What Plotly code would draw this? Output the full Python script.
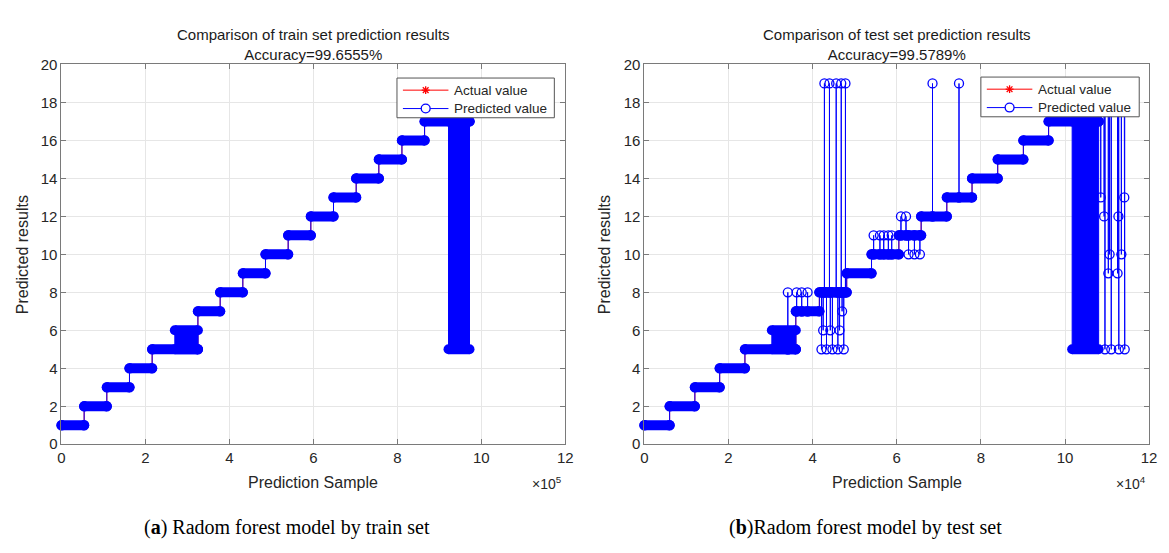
import plotly.graph_objects as go

# ---------------- data ----------------
# Train set (x in units of 1e5 samples): class boundaries and class levels
train_bounds = [0.00, 0.54, 1.08, 1.62, 2.16, 3.25, 3.78, 4.32, 4.86, 5.40,
                5.94, 6.48, 7.02, 7.56, 8.11, 8.65, 9.72]
train_levels = [1, 2, 3, 4, 5, 7, 8, 9, 10, 11, 12, 13, 14, 15, 16, 17]
# zones where predictions alternate rapidly between two classes
train_mix_x0 = [2.70, 9.22]
train_mix_x1 = [3.25, 9.72]
train_mix_lo = [5, 5]
train_mix_hi = [6, 17]
train_out_x = []
train_out_y = []

# Test set (x in units of 1e4 samples)
test_bounds = [0.00, 0.60, 1.20, 1.79, 2.39, 3.60, 4.16, 4.81, 5.40, 6.05,
               6.58, 7.19, 7.79, 8.40, 9.01, 9.61, 10.80, 11.45]
test_levels = [1, 2, 3, 4, 5, 7, 8, 9, 10, 11, 12, 13, 14, 15, 16, 17, 18]
test_mix_x0 = [3.03, 10.17]
test_mix_x1 = [3.60, 10.80]
test_mix_lo = [5, 5]
test_mix_hi = [6, 17]
# misclassified predictions (x position, predicted class)
test_out_x = [3.41, 3.62, 3.74, 3.88,
              4.21, 4.25, 4.28, 4.33, 4.40, 4.42, 4.47, 4.56, 4.60, 4.64, 4.68, 4.70, 4.74, 4.78,
              5.45, 5.60, 5.69, 5.80, 5.88,
              6.10, 6.22, 6.28, 6.42, 6.55,
              6.85, 7.48,
              10.85, 10.93, 10.95, 11.03, 11.06, 11.10, 11.25, 11.27, 11.28, 11.34, 11.41, 11.42]
test_out_y = [8, 8, 8, 8,
              5, 6, 19, 5, 19, 6, 5, 19, 5, 6, 19, 7, 5, 19,
              11, 11, 11, 11, 11,
              12, 12, 10, 10, 10,
              19, 19,
              13, 12, 5, 9, 10, 5, 9, 12, 5, 10, 13, 5]

titles = ["Comparison of train set prediction results<br>Accuracy=99.6555%",
          "Comparison of test set prediction results<br>Accuracy=99.5789%"]
captions = ["(<b>a</b>) Radom forest model by train set",
            "(<b>b</b>)Radom forest model by test set"]
exponents = ["×10<sup>5</sup>", "×10<sup>4</sup>"]
legend_names = ["Actual value", "Predicted value"]
x_ticks = [0, 2, 4, 6, 8, 10, 12]
y_ticks = [0, 2, 4, 6, 8, 10, 12, 14, 16, 18, 20]

BLUE = "#0000ff"
RED = "#ff0000"
FONT = "Liberation Sans, Arial, sans-serif"


def step_path(bounds, levels, ox=(), oy=()):
    xs, ys = [], []
    pts = sorted(zip(ox, oy))
    for i, lv in enumerate(levels):
        x0, x1 = bounds[i], bounds[i + 1]
        xs.append(x0); ys.append(lv)
        for qx, qy in pts:
            if x0 <= qx < x1:
                xs += [qx, qx, qx]
                ys += [lv, qy, lv]
        xs.append(x1); ys.append(lv)
    return xs, ys


def capsules(bounds, levels, mx0, mx1, mlo, mhi):
    xs, ys = [], []
    for i, lv in enumerate(levels):
        xs += [bounds[i], bounds[i + 1], None]
        ys += [lv, lv, None]
    for a, b, lo, hi in zip(mx0, mx1, mlo, mhi):
        xs += [a, b, None, a, b, None]
        ys += [lo, lo, None, hi, hi, None]
    return xs, ys


def blocks(mx0, mx1, mlo, mhi):
    xs, ys = [], []
    for a, b, lo, hi in zip(mx0, mx1, mlo, mhi):
        xs += [a, b, b, a, a, None]
        ys += [lo, lo, hi, hi, lo, None]
    return xs, ys


fig = go.Figure()

panels = [
    (train_bounds, train_levels, train_mix_x0, train_mix_x1, train_mix_lo, train_mix_hi,
     train_out_x, train_out_y, "x", "y"),
    (test_bounds, test_levels, test_mix_x0, test_mix_x1, test_mix_lo, test_mix_hi,
     test_out_x, test_out_y, "x2", "y2"),
]

for (bnds, lvls, mx0, mx1, mlo, mhi, ox, oy, xa, ya) in panels:
    ax, ay = step_path(bnds, lvls)
    fig.add_trace(go.Scatter(
        x=ax, y=ay, mode="lines+markers", name=legend_names[0],
        xaxis=xa, yaxis=ya,
        line=dict(color=RED, width=1),
        marker=dict(symbol="asterisk-open", size=8, color=RED,
                    line=dict(color=RED, width=1))))
    bx, by = blocks(mx0, mx1, mlo, mhi)
    fig.add_trace(go.Scatter(
        x=bx, y=by, mode="lines", fill="toself", fillcolor=BLUE,
        line=dict(color=BLUE, width=1), xaxis=xa, yaxis=ya, hoverinfo="skip"))
    cx, cy = capsules(bnds, lvls, mx0, mx1, mlo, mhi)
    fig.add_trace(go.Scatter(
        x=cx, y=cy, mode="lines+markers", xaxis=xa, yaxis=ya, cliponaxis=False,
        line=dict(color=BLUE, width=10),
        marker=dict(symbol="circle", size=10, color=BLUE, line=dict(width=0)),
        hoverinfo="skip"))
    qx_, qy_ = step_path(bnds, lvls, ox, oy)
    fig.add_trace(go.Scatter(
        x=qx_, y=qy_, mode="lines+markers", name=legend_names[1],
        xaxis=xa, yaxis=ya, cliponaxis=False,
        line=dict(color=BLUE, width=1),
        marker=dict(symbol="circle-open", size=9, color=BLUE,
                    line=dict(color=BLUE, width=1.3))))

# The page body has an 8px default margin, so the figure is made 8px smaller
# and all window-pixel positions below are shifted by that offset.
OFF = 8
W, H = 1169 - OFF, 553 - OFF
def px(x):
    return (x - OFF) / W
def py(y):
    return 1 - (y - OFF) / H

axis_common = dict(
    showline=True, linecolor="#7a7a7a", linewidth=1, mirror="allticks",
    ticks="inside", ticklen=5, tickcolor="#7a7a7a",
    showgrid=True, gridcolor="#e6e6e6", gridwidth=1, zeroline=False,
    tickfont=dict(family=FONT, size=15, color="#262626"),
)

left_edges = [58, 647]
right_edges = [567, 1157]
ydom = [py(449), py(57)]
fig.update_layout(
    width=W, height=H, margin=dict(l=0, r=0, t=0, b=0),
    paper_bgcolor="white", plot_bgcolor="white", showlegend=False,
    font=dict(family=FONT, color="#262626"),
    xaxis=dict(domain=[px(left_edges[0]), px(right_edges[0])], range=[0, 12],
               tickvals=x_ticks, anchor="y", **axis_common),
    yaxis=dict(domain=ydom, range=[0, 20], tickvals=y_ticks, anchor="x", **axis_common),
    xaxis2=dict(domain=[px(left_edges[1]), px(right_edges[1])], range=[0, 12],
                tickvals=x_ticks, anchor="y2", **axis_common),
    yaxis2=dict(domain=ydom, range=[0, 20], tickvals=y_ticks, anchor="x2", **axis_common),
)

anns = []
shapes = []
centers = [(l + r) / 2 for l, r in zip(left_edges, right_edges)]
cap_centers = [286, 870]
legend_boxes = [(397, 71, 556, 112), (987, 70, 1147, 111)]

for i in range(2):
    anns.append(dict(text=titles[i], x=px(centers[i]), y=py(36), xref="paper", yref="paper",
                     showarrow=False, font=dict(family=FONT, size=15, color="#1a1a1a"),
                     xanchor="center", yanchor="middle", align="center"))
    anns.append(dict(text="Prediction Sample", x=px(centers[i]), y=py(488), xref="paper",
                     yref="paper", showarrow=False,
                     font=dict(family=FONT, size=16, color="#262626"),
                     xanchor="center", yanchor="middle"))
    anns.append(dict(text="Predicted results", x=px(left_edges[i] - 40), y=py(253),
                     xref="paper", yref="paper", showarrow=False, textangle=-90,
                     font=dict(family=FONT, size=16, color="#262626"),
                     xanchor="center", yanchor="middle"))
    anns.append(dict(text=exponents[i], x=px(right_edges[i] - 18), y=py(489), xref="paper",
                     yref="paper", showarrow=False,
                     font=dict(family=FONT, size=14, color="#262626"),
                     xanchor="center", yanchor="middle"))
    anns.append(dict(text=captions[i], x=px(cap_centers[i]), y=py(535), xref="paper",
                     yref="paper", showarrow=False,
                     font=dict(family="Liberation Serif, serif", size=20, color="#000000"),
                     xanchor="center", yanchor="middle"))

    # legend box (drawn with shapes so it matches the compact MATLAB legend)
    bl, bt, br, bb = legend_boxes[i]
    shapes.append(dict(type="rect", xref="paper", yref="paper", layer="above",
                       x0=px(bl), x1=px(br), y0=py(bb), y1=py(bt),
                       fillcolor="white", line=dict(color="#555555", width=1)))
    rows = [bt + 12.5, bt + 31.5]
    cols = [RED, BLUE]
    for r, (ry, colr) in enumerate(zip(rows, cols)):
        shapes.append(dict(type="line", xref="paper", yref="paper", layer="above",
                           x0=px(bl + 6), x1=px(bl + 52), y0=py(ry), y1=py(ry),
                           line=dict(color=colr, width=1)))
        mx = bl + 29
        if r == 0:
            for dx, dy in [(4, 0), (0, 4), (2.9, 2.9), (2.9, -2.9)]:
                shapes.append(dict(type="line", xref="paper", yref="paper", layer="above",
                                   x0=px(mx - dx), x1=px(mx + dx),
                                   y0=py(ry - dy), y1=py(ry + dy),
                                   line=dict(color=colr, width=1.3)))
        else:
            shapes.append(dict(type="circle", xref="paper", yref="paper", layer="above",
                               x0=px(mx - 4.5), x1=px(mx + 4.5),
                               y0=py(ry + 4.5), y1=py(ry - 4.5),
                               fillcolor="white", line=dict(color=colr, width=1.3)))
        anns.append(dict(text=legend_names[r], x=px(bl + 56), y=py(ry), xref="paper",
                         yref="paper", showarrow=False, xanchor="left", yanchor="middle",
                         font=dict(family=FONT, size=13.5, color="#262626")))

fig.update_layout(annotations=anns, shapes=shapes)

fig.write_html("out.html")
